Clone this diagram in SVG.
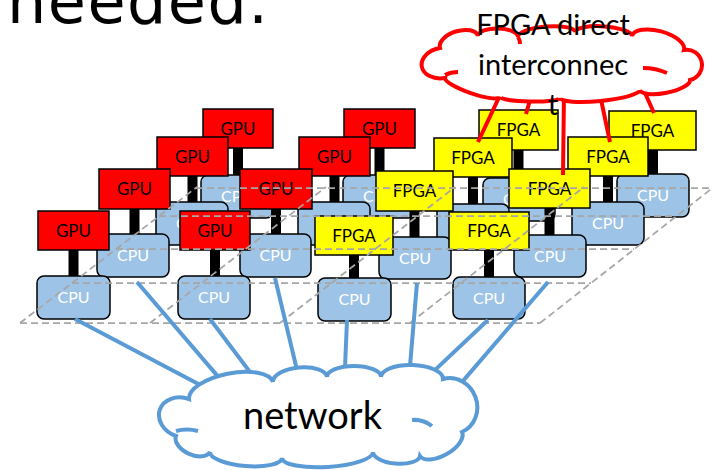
<svg xmlns="http://www.w3.org/2000/svg" width="713" height="470" viewBox="0 0 713 470">
<style>
.gpu{fill:#FF0000;stroke:#000;stroke-width:1.5}
.fpga{fill:#FFFF00;stroke:#000;stroke-width:1.5}
.cpu{fill:#9DC3E6;stroke:#000;stroke-width:1.5}
.bar{fill:#000}
.lbl{font-family:Lato,"Liberation Sans",sans-serif;font-size:17px;fill:#000;text-anchor:middle}
.clbl{font-family:Lato,"Liberation Sans",sans-serif;font-size:16px;fill:#FFF;text-anchor:middle}
.grid{stroke:#A6A6A6;stroke-width:1.75;stroke-dasharray:7 4;fill:none}
.blink{stroke:#5B9BD5;stroke-width:4;fill:none}
.rlink{stroke:#FF0000;stroke-width:4;fill:none}
.bcloud{fill:#FFF;stroke:#5B9BD5;stroke-width:4}
.rcloud{fill:#FFF;stroke:#FF0000;stroke-width:4}
.tick{fill:none;stroke-width:4}
.big{font-family:Lato,"Liberation Sans",sans-serif;fill:#000;text-anchor:middle}
</style>
<rect width="713" height="470" fill="#FFF"/>
<g id="title">
<text x="7" y="23" font-family="'DejaVu Sans',sans-serif" font-size="62" textLength="261" lengthAdjust="spacing" fill="#000">needed.</text>
</g>

<!-- Row D (back) -->
<g id="node-d1">
<rect class="cpu" x="201" y="175" width="72" height="43" rx="7"/><text class="clbl" x="237" y="202">CPU</text>
<rect class="bar" x="233" y="148" width="10" height="27"/>
<rect class="gpu" x="203" y="109" width="70" height="39"/><text class="lbl" x="238" y="134.5">GPU</text>
</g>
<g id="node-d2">
<rect class="cpu" x="343" y="175" width="72" height="43" rx="7"/><text class="clbl" x="379" y="202">CPU</text>
<rect class="bar" x="374.5" y="148" width="10" height="27"/>
<rect class="gpu" x="344" y="109" width="71" height="39"/><text class="lbl" x="379.5" y="134.5">GPU</text>
</g>
<g id="node-d3">
<rect class="cpu" x="483" y="178" width="72" height="43" rx="7"/><text class="clbl" x="519" y="205">CPU</text>
<rect class="bar" x="513.5" y="150" width="10" height="28"/>
<rect class="fpga" x="479" y="110" width="79" height="40"/><text class="lbl" x="518.5" y="136">FPGA</text>
</g>
<g id="node-d4">
<rect class="cpu" x="617" y="174" width="72" height="43" rx="7"/><text class="clbl" x="653" y="201">CPU</text>
<rect class="bar" x="648" y="150" width="10" height="24"/>
<rect class="fpga" x="609" y="111" width="87" height="39"/><text class="lbl" x="652.5" y="136.5">FPGA</text>
</g>

<!-- Row C -->
<g id="node-c1">
<rect class="cpu" x="156" y="202" width="72" height="43" rx="7"/><text class="clbl" x="192" y="229">CPU</text>
<rect class="bar" x="187.5" y="176" width="10" height="26"/>
<rect class="gpu" x="157" y="137" width="71" height="39"/><text class="lbl" x="192.5" y="162.5">GPU</text>
</g>
<g id="node-c2">
<rect class="cpu" x="298" y="202" width="72" height="43" rx="7"/><text class="clbl" x="334" y="229">CPU</text>
<rect class="bar" x="329.5" y="176" width="10" height="26"/>
<rect class="gpu" x="299" y="137" width="71" height="39"/><text class="lbl" x="334.5" y="162.5">GPU</text>
</g>
<g id="node-c3">
<rect class="cpu" x="437" y="204" width="72" height="43" rx="7"/><text class="clbl" x="473" y="231">CPU</text>
<rect class="bar" x="468" y="177" width="10" height="27"/>
<rect class="fpga" x="434" y="138" width="78" height="39"/><text class="lbl" x="473" y="163.5">FPGA</text>
</g>
<g id="node-c4">
<rect class="cpu" x="572" y="202" width="72" height="43" rx="7"/><text class="clbl" x="608" y="229">CPU</text>
<rect class="bar" x="603" y="176" width="10" height="26"/>
<rect class="fpga" x="568" y="137" width="80" height="39"/><text class="lbl" x="608" y="162.5">FPGA</text>
</g>

<!-- Row B -->
<g id="node-b1">
<rect class="cpu" x="97" y="234" width="72" height="43" rx="7"/><text class="clbl" x="133" y="261">CPU</text>
<rect class="bar" x="129.5" y="209" width="10" height="25"/>
<rect class="gpu" x="99" y="169" width="71" height="40"/><text class="lbl" x="134.5" y="195">GPU</text>
</g>
<g id="node-b2">
<rect class="cpu" x="240" y="234" width="71" height="43" rx="7"/><text class="clbl" x="275.5" y="261">CPU</text>
<rect class="bar" x="271" y="209" width="10" height="25"/>
<rect class="gpu" x="240" y="169" width="72" height="40"/><text class="lbl" x="276" y="195">GPU</text>
</g>
<g id="node-b3">
<rect class="cpu" x="379" y="237" width="72" height="42" rx="7"/><text class="clbl" x="415" y="263.5">CPU</text>
<rect class="bar" x="409.5" y="211" width="10" height="26"/>
<rect class="fpga" x="376" y="171" width="77" height="40"/><text class="lbl" x="414.5" y="197">FPGA</text>
</g>
<g id="node-b4">
<rect class="cpu" x="514" y="235" width="72" height="42" rx="7"/><text class="clbl" x="550" y="261.5">CPU</text>
<rect class="bar" x="544.5" y="208" width="10" height="27"/>
<rect class="fpga" x="509" y="169" width="81" height="39"/><text class="lbl" x="549.5" y="194.5">FPGA</text>
</g>

<!-- Row A (front) -->
<g id="node-a1">
<rect class="cpu" x="37" y="276" width="73" height="43" rx="7"/><text class="clbl" x="73.5" y="303">CPU</text>
<rect class="bar" x="68.5" y="250" width="10" height="26"/>
<rect class="gpu" x="38" y="211" width="71" height="39"/><text class="lbl" x="73.5" y="236.5">GPU</text>
</g>
<g id="node-a2">
<rect class="cpu" x="178" y="276" width="72" height="43" rx="7"/><text class="clbl" x="214" y="303">CPU</text>
<rect class="bar" x="210" y="250" width="10" height="26"/>
<rect class="gpu" x="180" y="211" width="70" height="39"/><text class="lbl" x="215" y="236.5">GPU</text>
</g>
<g id="node-a3">
<rect class="cpu" x="318" y="278" width="73" height="43" rx="7"/><text class="clbl" x="354.5" y="305">CPU</text>
<rect class="bar" x="349" y="255" width="10" height="23"/>
<rect class="fpga" x="315" y="216" width="78" height="39"/><text class="lbl" x="354" y="241.5">FPGA</text>
</g>
<g id="node-a4">
<rect class="cpu" x="453" y="277" width="72" height="42" rx="7"/><text class="clbl" x="489" y="303.5">CPU</text>
<rect class="bar" x="484" y="250" width="10" height="27"/>
<rect class="fpga" x="449" y="212" width="80" height="38"/><text class="lbl" x="489" y="237">FPGA</text>
</g>

<g id="grid">
<path class="grid" d="M20 323H540M72 283H591M116 249H634M159 216H676M196 188H715"/>
<path class="grid" d="M20 323L197 187M150 323L326 187M280 323L455 187M410 323L584 187M540 323L715 186"/>
</g>

<g id="connectors">
<path class="blink" d="M75 319L206 388M137 282L221.5 380.6M210 319L256 380M275 278L299.3 379.7M347 320L344.6 377M417 283L409 378M488 320L427.7 376.9M548 282L455.5 389.6"/>
<path class="rlink" d="M502 91L478 142M532 93L526 114M564 92L563 175M599 90L610 142M641 84L654 113"/>
</g>

<g id="network">
<path class="bcloud" d="M176 436A19.6 24 -70.6 0 1 189 399A42.9 18 -11.4 0 1 273 382A27.1 12 -5.3 0 1 327 377A27 11 0 0 1 381 377A31 13 1.8 0 1 443 379A28.2 26 70.3 0 1 462 432A24.2 12 150.3 0 1 420 456A23.6 10 184.9 0 1 373 452A45.6 12 176.2 0 1 282 458A36.1 11 184.8 0 1 210 452A18.8 11 205.2 0 1 176 436Z"/>
<path class="tick" stroke="#5B9BD5" d="M176 431Q187 428 198 431M412 420Q423 419 432 426"/>
<text class="big" x="312.5" y="429" font-size="38">network</text>
</g>

<g id="fpga-interconnect">
<path class="rcloud" d="M445 78A15.2 21 -99.5 0 1 440 48A19.9 11 -17.5 0 1 478 36A20 8 1.4 0 1 518 37A28.6 8 -5 0 1 575 32A28.6 8 4 0 1 632 36A26.9 12 15.1 0 1 684 50A15.3 15.3 78.7 0 1 690 80A25.5 8 168.7 0 1 640 90A40.2 7 174.3 0 1 560 98A30 4 181 0 1 500 97A29.1 6 199.1 0 1 445 78Z"/>
<path class="tick" stroke="#FF0000" d="M445 75Q451 72 458 72M643 68Q656 68 667 73M518 37Q520 40 520 44"/>
<text class="big" font-size="29"><tspan x="553" y="35">FPGA direct</tspan><tspan x="553" y="75">interconnec</tspan><tspan x="553" y="115">t</tspan></text>
</g>
</svg>
